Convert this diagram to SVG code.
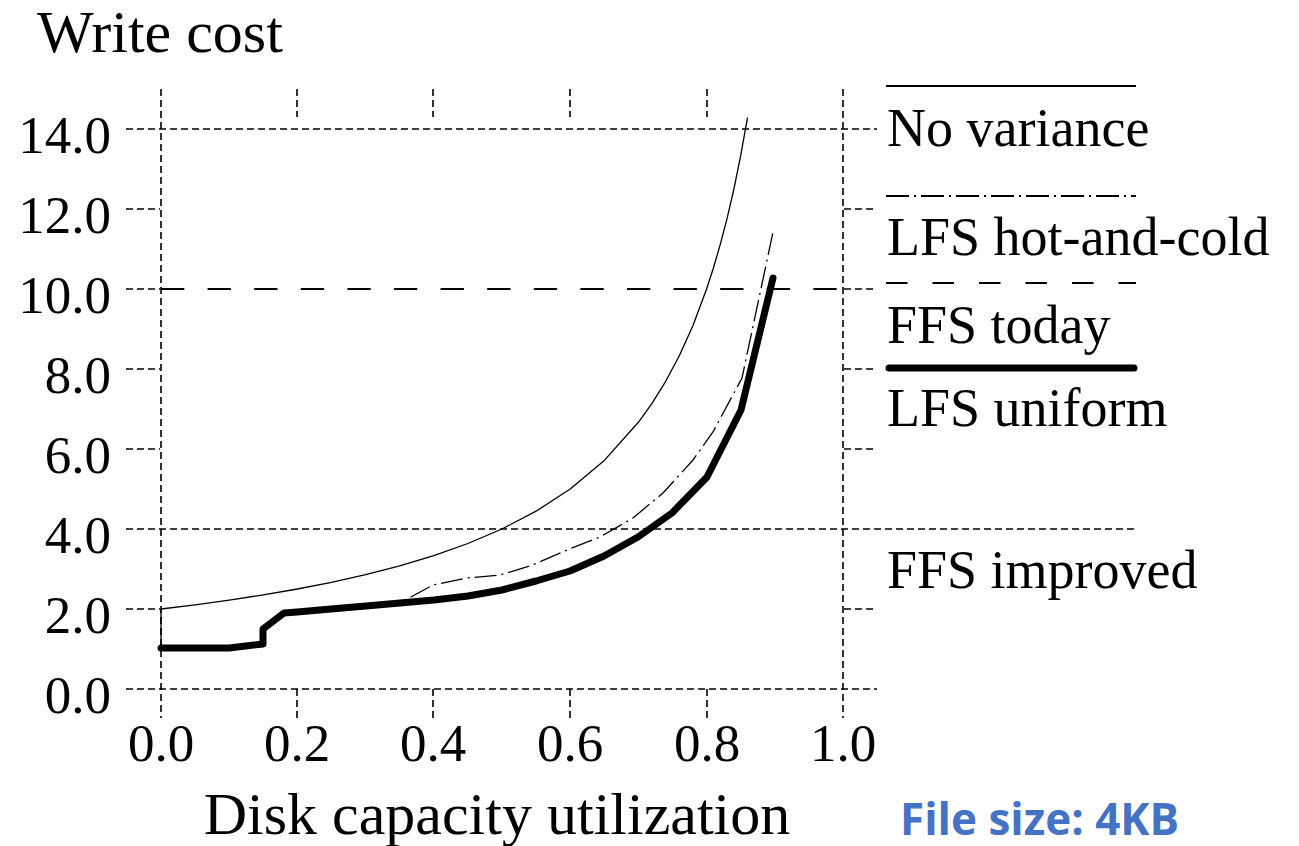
<svg xmlns="http://www.w3.org/2000/svg" width="1299" height="846" viewBox="0 0 1299 846">
<style>
.txt{font-family:"Liberation Serif","Times New Roman",serif;fill:#000}
.ax{font-size:53px}
.lg{font-size:54px}
.grid{stroke:#000;stroke-width:1.6;stroke-dasharray:7 4;fill:none}
.thin{stroke:#000;stroke-width:1.3;fill:none;stroke-linejoin:round}
.hc{stroke:#000;stroke-width:1.3;fill:none;stroke-dasharray:22 5 2 5}
.ffs{stroke:#000;stroke-width:2;fill:none;stroke-dasharray:23.3 23.3}
.thick{stroke:#000;stroke-width:7;fill:none;stroke-linecap:round;stroke-linejoin:round}
</style>
<rect width="1299" height="846" fill="#fff"/>
<g id="frame">
<line class="grid" x1="161" y1="89" x2="161" y2="718"/>
<line class="grid" x1="843" y1="89" x2="843" y2="718"/>
<line class="grid" x1="297" y1="89" x2="297" y2="117"/>
<line class="grid" x1="433" y1="89" x2="433" y2="117"/>
<line class="grid" x1="570" y1="89" x2="570" y2="117"/>
<line class="grid" x1="707" y1="89" x2="707" y2="117"/>
<line class="grid" x1="297" y1="689" x2="297" y2="718"/>
<line class="grid" x1="433" y1="689" x2="433" y2="718"/>
<line class="grid" x1="570" y1="689" x2="570" y2="718"/>
<line class="grid" x1="707" y1="689" x2="707" y2="718"/>
<line class="grid" x1="126" y1="129" x2="877" y2="129"/>
<line class="grid" x1="126" y1="689" x2="877" y2="689"/>
<line class="grid" x1="126" y1="529" x2="1136" y2="529"/>
<line class="grid" x1="126" y1="209" x2="160" y2="209"/>
<line class="grid" x1="126" y1="289" x2="160" y2="289"/>
<line class="grid" x1="126" y1="369" x2="160" y2="369"/>
<line class="grid" x1="126" y1="449" x2="160" y2="449"/>
<line class="grid" x1="126" y1="609" x2="160" y2="609"/>
<line class="grid" x1="844" y1="209" x2="877" y2="209"/>
<line class="grid" x1="844" y1="289" x2="877" y2="289"/>
<line class="grid" x1="844" y1="369" x2="877" y2="369"/>
<line class="grid" x1="844" y1="449" x2="877" y2="449"/>
<line class="grid" x1="844" y1="609" x2="877" y2="609"/>
</g>
<g id="labels" class="txt">
<text x="37" y="52" font-size="60">Write cost</text>
<g class="ax" text-anchor="end">
<text x="111" y="153">14.0</text>
<text x="111" y="233">12.0</text>
<text x="111" y="313">10.0</text>
<text x="111" y="393">8.0</text>
<text x="111" y="473">6.0</text>
<text x="111" y="553">4.0</text>
<text x="111" y="633">2.0</text>
<text x="111" y="713">0.0</text>
</g>
<g class="ax" text-anchor="middle">
<text x="161" y="761">0.0</text>
<text x="297" y="761">0.2</text>
<text x="433" y="761">0.4</text>
<text x="570" y="761">0.6</text>
<text x="707" y="761">0.8</text>
<text x="843" y="761">1.0</text>
</g>
<text x="497" y="834" font-size="60" text-anchor="middle">Disk capacity utilization</text>
</g>
<g id="curves">
<line class="ffs" x1="161" y1="289" x2="843" y2="289"/>
<line class="thin" x1="161" y1="609" x2="161" y2="648"/>
<polyline id="no-variance" class="thin" points="161,609 195.1,604.8 229.2,600.1 263.3,594.9 297.4,589 331.5,582.3 365.6,574.7 399.7,565.9 433.8,555.7 467.9,543.5 502,529 536.1,511.2 570.2,489 604.3,460.4 638.4,422.3 652,403.3 665.7,381.3 679.3,355.7 693,325.4 706.6,289 713.4,268 720.2,244.6 727.1,218.4 733.9,189 740.7,155.7 747.5,117.6"/>
<polyline id="lfs-hot-cold" class="hc" points="161,648 229,648 263,644 263,629 284,613 297,612 331,609 366,606 400,603 433,585 467,578 500,575 530,566 567,550 600,537 633,518 663,493 693,460 713,432 742,378 773,232"/>
<polyline id="lfs-uniform" class="thick" points="161,648 229,648 263,644 263,629 284,613 297,612 331,609 366,606 400,603 434,600 468,596 502,590 536,581 570,571 604,556 638,537 672,513 707,477 741,410 773,278"/>
</g>
<g id="legend">
<line x1="886" y1="86" x2="1136" y2="86" stroke="#000" stroke-width="2"/>
<line x1="886" y1="196" x2="1136" y2="196" stroke="#000" stroke-width="2" stroke-dasharray="23 5 2 5"/>
<line x1="886" y1="283" x2="1136" y2="283" stroke="#000" stroke-width="2" stroke-dasharray="21.5 25"/>
<line x1="889" y1="368" x2="1134" y2="368" stroke="#000" stroke-width="7" stroke-linecap="round"/>
<g class="txt lg">
<text x="887" y="146">No variance</text>
<text x="887" y="255">LFS hot-and-cold</text>
<text x="887" y="343">FFS today</text>
<text x="887" y="426">LFS uniform</text>
<text x="887" y="588">FFS improved</text>
</g>
</g>
<text id="note" x="900" y="835" font-family="'Open Sans','Liberation Sans',sans-serif" font-weight="bold" font-size="44" fill="#4472C4">File size: 4KB</text>
</svg>
